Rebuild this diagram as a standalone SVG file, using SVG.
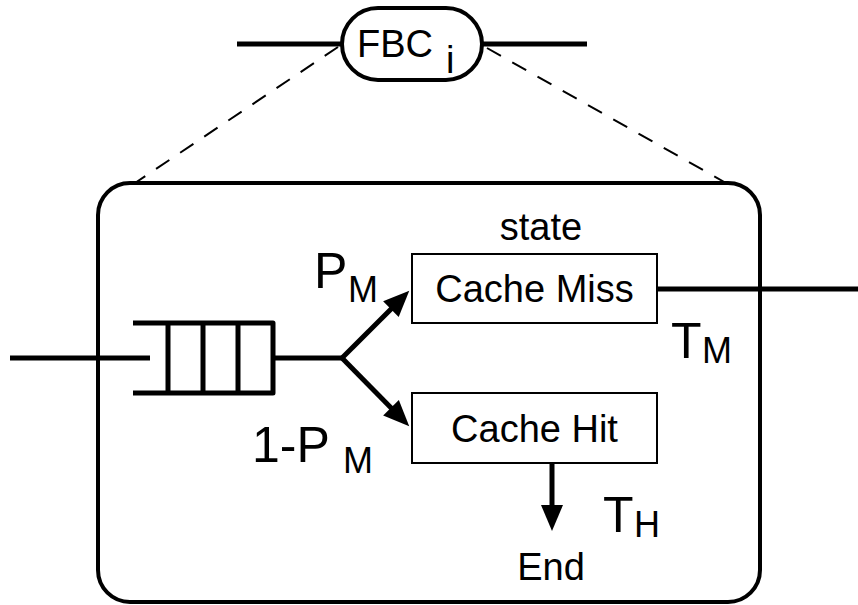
<svg xmlns="http://www.w3.org/2000/svg" width="858" height="605" viewBox="0 0 858 605">
<style>
.thick{stroke:#000;stroke-width:5;fill:none;stroke-linecap:butt}
.box{stroke:#000;stroke-width:2;fill:#fff}
.dash{stroke:#000;stroke-width:2;stroke-dasharray:16 13;fill:none}
text{font-family:"Liberation Sans",Arial,sans-serif;fill:#000}
.lbl{font-size:38px}
.big{font-size:50px}
.sub{font-size:36px}
</style>
<defs>
<marker id="ah" markerUnits="userSpaceOnUse" markerWidth="28" markerHeight="24" viewBox="0 -12 28 24" refX="1" refY="0" orient="auto" overflow="visible">
<path d="M0,-11 L26,0 L0,11 z" fill="#000"/>
</marker>
</defs>
<g id="connectors">
<line class="dash" x1="338" y1="47" x2="135" y2="183"/>
<line class="dash" x1="487" y1="48" x2="726" y2="183"/>
<line class="thick" x1="237" y1="44" x2="342" y2="44"/>
<line class="thick" x1="482" y1="44" x2="587" y2="44"/>
</g>
<g id="fbc">
<rect x="342" y="8" width="140" height="72" rx="36" ry="36" fill="#fff" stroke="#000" stroke-width="4"/>
<text class="lbl" x="357" y="57">FBC<tspan x="446" y="73">i</tspan></text>
</g>
<g id="container">
<rect x="98" y="183" width="662" height="419" rx="32" ry="32" fill="none" stroke="#000" stroke-width="4"/>
</g>
<g id="queue">
<path class="thick" d="M133,323 H273 V393 H133" stroke-linejoin="round"/>
<line class="thick" x1="168" y1="323" x2="168" y2="393"/>
<line class="thick" x1="203" y1="323" x2="203" y2="393"/>
<line class="thick" x1="238" y1="323" x2="238" y2="393"/>
</g>
<g id="flow">
<line class="thick" x1="10" y1="358" x2="150" y2="358"/>
<line class="thick" x1="273" y1="358" x2="342" y2="358"/>
<line class="thick" x1="342" y1="358" x2="391.6" y2="308.4" marker-end="url(#ah)"/>
<line class="thick" x1="342" y1="358" x2="391.7" y2="408.5" marker-end="url(#ah)"/>
<line class="thick" x1="657" y1="289" x2="858" y2="289"/>
<line class="thick" x1="552" y1="463" x2="552" y2="506" marker-end="url(#ah)"/>
</g>
<g id="cache-miss">
<rect class="box" x="412" y="254" width="245" height="69"/>
<text class="lbl" x="534.5" y="302" text-anchor="middle">Cache Miss</text>
<text class="lbl" x="541" y="240" text-anchor="middle">state</text>
</g>
<g id="cache-hit">
<rect class="box" x="412" y="393" width="245" height="70"/>
<text class="lbl" x="534.5" y="442" text-anchor="middle">Cache Hit</text>
</g>
<g id="end">
<text class="lbl" x="551" y="580" text-anchor="middle">End</text>
</g>
<g id="labels">
<text class="big" x="314" y="288">P<tspan class="sub" x="348" y="302">M</tspan></text>
<text class="big" x="252" y="462">1-P<tspan class="sub" x="343" y="473">M</tspan></text>
<text class="big" x="671" y="358">T<tspan class="sub" x="702" y="363">M</tspan></text>
<text class="big" x="603" y="532">T<tspan class="sub" x="634" y="537">H</tspan></text>
</g>
</svg>
